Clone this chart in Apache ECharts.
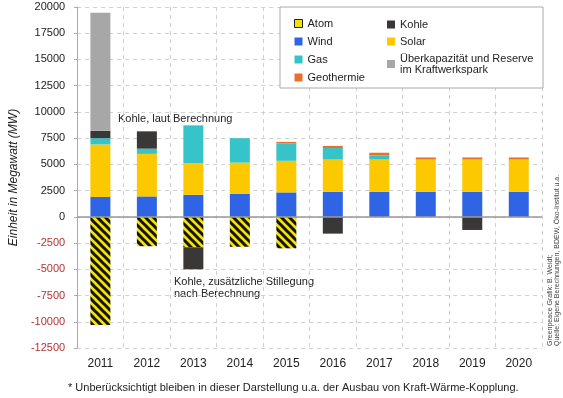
<!DOCTYPE html>
<html lang="de">
  <head>
    <meta charset="UTF-8" />
    <title>Kraftwerkspark</title>
    <style>
      html, body { margin: 0; padding: 0; background: #fff; }
      #main { width: 563px; height: 398px; }
    </style>
  </head>
  <body>
    <div id="main"></div>
    <script src="https://cdn.jsdelivr.net/npm/echarts@6/dist/echarts.min.js"></script>
    <script>
      // Jahre und Werte (MW)
      const years = ["2011", "2012", "2013", "2014", "2015", "2016", "2017", "2018", "2019", "2020"];
      const atom = [-10300, -2800, -2900, -2850, -3000, 0, 0, 0, 0, 0];
      const wind = [1900, 1950, 2100, 2200, 2330, 2380, 2380, 2380, 2380, 2380];
      const solar = [5000, 4050, 3000, 2970, 3010, 3080, 3080, 3080, 3080, 3080];
      const gas = [600, 500, 3620, 2330, 1650, 1100, 400, 0, 0, 0];
      const geothermie = [0, 0, 0, 0, 150, 200, 250, 200, 200, 200];
      const kohle = [700, 1650, -2100, 0, 0, -1600, 0, 0, -1250, 0];
      const reserve = [11250, 0, 0, 0, 0, 0, 0, 0, 0, 0];

      const font = "Liberation Sans, Arial, sans-serif";
      const reserveName = "Überkapazität und Reserve\nim Kraftwerkspark";

      // gelb-schwarze Schraffur fuer Atom
      const tile = document.createElement("canvas");
      tile.width = 8;
      tile.height = 8;
      const c = tile.getContext("2d");
      c.fillStyle = "#f4e200";
      c.fillRect(0, 0, 8, 8);
      c.strokeStyle = "#111";
      c.lineWidth = 3;
      for (let o = -8; o <= 8; o += 8) {
        c.beginPath();
        c.moveTo(o - 2, -2);
        c.lineTo(o + 10, 10);
        c.stroke();
      }

      const myChart = echarts.init(document.getElementById("main"));

      function bar(name, data, color) {
        return {
          name: name,
          type: "bar",
          stack: "total",
          barWidth: 20,
          data: data,
          itemStyle: { color: color },
        };
      }

      const series = [
        bar("Atom", atom, { image: tile, repeat: "repeat" }),
        bar("Wind", wind, "#2f64e4"),
        bar("Solar", solar, "#fcc800"),
        bar("Gas", gas, "#36c4c8"),
        bar("Geothermie", geothermie, "#e8702a"),
        bar("Kohle", kohle, "#3a3737"),
        bar(reserveName, reserve, "#a7a7a7"),
      ];
      series[1].markLine = {
        silent: true,
        symbol: "none",
        label: { show: false },
        lineStyle: { color: "#999", type: "solid", width: 1.5 },
        data: [{ yAxis: 0 }],
      };

      const legendText = { fontFamily: font, fontSize: 11, color: "#222", lineHeight: 11 };

      myChart.setOption({
        animation: false,
        textStyle: { fontFamily: font },
        grid: { left: 69, right: 21, top: 7, bottom: 50 },
        legend: [
          {
            orient: "vertical",
            left: 289,
            top: 13,
            icon: "rect",
            itemWidth: 8,
            itemHeight: 8,
            itemGap: 7,
            textStyle: legendText,
            data: [
              { name: "Atom", itemStyle: { color: "#f4e200", borderColor: "#222", borderWidth: 1 } },
              "Wind",
              "Gas",
              "Geothermie",
            ],
          },
          {
            orient: "vertical",
            left: 382,
            top: 14,
            icon: "rect",
            itemWidth: 8,
            itemHeight: 8,
            itemGap: 6,
            textStyle: legendText,
            data: ["Kohle", "Solar", reserveName],
          },
        ],
        xAxis: {
          type: "category",
          data: years,
          axisLine: { show: false },
          axisTick: { show: false },
          axisLabel: { fontSize: 12, color: "#222", margin: 10 },
          splitLine: { show: true, lineStyle: { color: "#d0d0d0", type: [4, 4] } },
        },
        yAxis: {
          type: "value",
          min: -12500,
          max: 20000,
          interval: 2500,
          name: "Einheit in Megawatt (MW)",
          nameLocation: "middle",
          nameGap: 50,
          nameTextStyle: { fontSize: 12, fontStyle: "italic", color: "#222" },
          axisLine: { show: true, lineStyle: { color: "#aaa" } },
          axisTick: { show: true, length: 3, lineStyle: { color: "#aaa" } },
          axisLabel: {
            fontSize: 11,
            margin: 12,
            formatter: (v) => String(v),
            color: (v) => (Number(v) < 0 ? "#b83232" : "#222"),
          },
          splitLine: { show: true, lineStyle: { color: "#d0d0d0", type: [4, 4] } },
        },
        graphic: [
          {
            type: "rect",
            z: 3,
            shape: { x: 280, y: 7, width: 263, height: 81 },
            style: { fill: "#fff", stroke: "#aaa", lineWidth: 1 },
          },
          {
            type: "text",
            left: 118,
            top: 113,
            style: { text: "Kohle, laut Berechnung", font: "11px " + font, fill: "#222" },
          },
          {
            type: "text",
            left: 174,
            top: 276,
            style: {
              text: "Kohle, zusätzliche Stillegung\nnach Berechnung",
              font: "11px " + font,
              lineHeight: 12,
              fill: "#222",
            },
          },
          {
            type: "text",
            left: 68,
            top: 382,
            style: {
              text: "* Unberücksichtigt bleiben in dieser Darstellung u.a. der Ausbau von Kraft-Wärme-Kopplung.",
              font: "11px " + font,
              fill: "#222",
            },
          },
          {
            type: "text",
            x: 547,
            y: 346,
            rotation: Math.PI / 2,
            style: {
              text: "Greenpeace Grafik: B. Weidt;\nQuelle: Eigene Berechnungen, BDEW, Öko-Institut u.a.",
              font: "7px " + font,
              lineHeight: 7,
              fill: "#444",
              align: "left",
              verticalAlign: "top",
            },
          },
        ],
        series: series,
      });
    </script>
  </body>
</html>
